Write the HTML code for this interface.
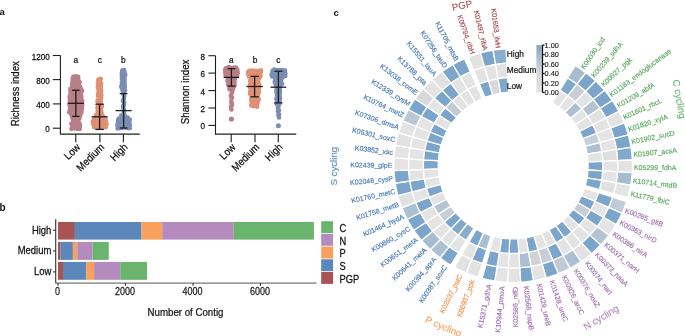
<!DOCTYPE html>
<html><head><meta charset="utf-8"><style>
html,body{margin:0;padding:0;background:#fff;}
svg{display:block;will-change:transform;}
text{font-family:"Liberation Sans", sans-serif;}
</style></head><body>
<svg width="685" height="336" viewBox="0 0 685 336" font-family="&quot;Liberation Sans&quot;, sans-serif">
<rect width="685" height="336" fill="#fff"/>
<text x="-0.5" y="15" font-size="9.5" font-weight="bold" fill="#111">a</text>
<text x="-0.5" y="211" font-size="10" font-weight="bold" fill="#111">b</text>
<text x="333.5" y="15.9" font-size="9.5" font-weight="bold" fill="#111">c</text>
<g stroke="#1e1e1e" stroke-width="1.1" fill="none">
<line x1="60.4" y1="55.5" x2="60.4" y2="134.1"/>
<line x1="59.9" y1="134.1" x2="139.8" y2="134.1"/>
<line x1="52.8" y1="55.5" x2="60.4" y2="55.5"/>
<line x1="52.8" y1="79.6" x2="60.4" y2="79.6"/>
<line x1="52.8" y1="103.9" x2="60.4" y2="103.9"/>
<line x1="52.8" y1="128.2" x2="60.4" y2="128.2"/>
<line x1="75.8" y1="134.1" x2="75.8" y2="142.2"/>
<line x1="99.9" y1="134.1" x2="99.9" y2="142.2"/>
<line x1="123.4" y1="134.1" x2="123.4" y2="142.2"/>
</g>
<text transform="translate(49.70,59.50) scale(1,1.15)" font-size="8.1" text-anchor="end" fill="#111" stroke="#111" stroke-width="0.22">1200</text>
<text transform="translate(49.70,83.60) scale(1,1.15)" font-size="8.1" text-anchor="end" fill="#111" stroke="#111" stroke-width="0.22">800</text>
<text transform="translate(49.70,107.90) scale(1,1.15)" font-size="8.1" text-anchor="end" fill="#111" stroke="#111" stroke-width="0.22">400</text>
<text transform="translate(49.70,132.20) scale(1,1.15)" font-size="8.1" text-anchor="end" fill="#111" stroke="#111" stroke-width="0.22">0</text>
<text transform="translate(19.20,93.70) rotate(-90) scale(1,1.12)" font-size="9.6" text-anchor="middle" fill="#111" stroke="#111" stroke-width="0.22">Richness index</text>
<g fill="#B77F88"><circle cx="73.37" cy="76.48" r="2.3"/><circle cx="76.11" cy="76.39" r="2.3"/><circle cx="78.23" cy="76.74" r="2.3"/><circle cx="72.61" cy="78.89" r="2.3"/><circle cx="75.25" cy="78.80" r="2.3"/><circle cx="77.97" cy="78.39" r="2.3"/><circle cx="72.77" cy="81.25" r="2.3"/><circle cx="75.37" cy="80.53" r="2.3"/><circle cx="79.10" cy="81.40" r="2.3"/><circle cx="72.88" cy="82.72" r="2.3"/><circle cx="76.57" cy="82.30" r="2.3"/><circle cx="79.53" cy="82.59" r="2.3"/><circle cx="72.17" cy="84.36" r="2.3"/><circle cx="75.63" cy="85.20" r="2.3"/><circle cx="78.69" cy="84.92" r="2.3"/><circle cx="72.25" cy="86.65" r="2.3"/><circle cx="74.68" cy="86.28" r="2.3"/><circle cx="76.57" cy="86.45" r="2.3"/><circle cx="80.00" cy="86.71" r="2.3"/><circle cx="70.43" cy="88.88" r="2.3"/><circle cx="73.23" cy="88.54" r="2.3"/><circle cx="76.31" cy="89.02" r="2.3"/><circle cx="78.14" cy="88.87" r="2.3"/><circle cx="81.14" cy="89.23" r="2.3"/><circle cx="70.51" cy="90.51" r="2.3"/><circle cx="73.15" cy="90.30" r="2.3"/><circle cx="74.64" cy="91.07" r="2.3"/><circle cx="76.55" cy="90.75" r="2.3"/><circle cx="78.68" cy="90.96" r="2.3"/><circle cx="81.98" cy="90.85" r="2.3"/><circle cx="70.70" cy="92.52" r="2.3"/><circle cx="72.74" cy="92.85" r="2.3"/><circle cx="74.87" cy="92.69" r="2.3"/><circle cx="77.52" cy="93.27" r="2.3"/><circle cx="79.30" cy="92.94" r="2.3"/><circle cx="81.01" cy="92.98" r="2.3"/><circle cx="70.36" cy="95.31" r="2.3"/><circle cx="72.90" cy="94.46" r="2.3"/><circle cx="74.59" cy="94.92" r="2.3"/><circle cx="76.38" cy="94.67" r="2.3"/><circle cx="78.88" cy="94.26" r="2.3"/><circle cx="81.03" cy="95.04" r="2.3"/><circle cx="69.62" cy="96.40" r="2.3"/><circle cx="72.29" cy="97.15" r="2.3"/><circle cx="74.16" cy="96.64" r="2.3"/><circle cx="77.12" cy="97.16" r="2.3"/><circle cx="79.80" cy="97.14" r="2.3"/><circle cx="81.35" cy="96.60" r="2.3"/><circle cx="69.92" cy="99.14" r="2.3"/><circle cx="73.07" cy="98.26" r="2.3"/><circle cx="74.29" cy="98.36" r="2.3"/><circle cx="76.68" cy="98.66" r="2.3"/><circle cx="79.49" cy="98.40" r="2.3"/><circle cx="80.98" cy="98.58" r="2.3"/><circle cx="69.92" cy="100.74" r="2.3"/><circle cx="73.06" cy="100.89" r="2.3"/><circle cx="74.76" cy="100.80" r="2.3"/><circle cx="77.31" cy="100.12" r="2.3"/><circle cx="79.94" cy="101.00" r="2.3"/><circle cx="82.22" cy="101.02" r="2.3"/><circle cx="69.94" cy="102.52" r="2.3"/><circle cx="71.86" cy="102.80" r="2.3"/><circle cx="74.12" cy="102.12" r="2.3"/><circle cx="76.65" cy="102.23" r="2.3"/><circle cx="79.16" cy="102.10" r="2.3"/><circle cx="81.01" cy="102.22" r="2.3"/><circle cx="69.51" cy="104.46" r="2.3"/><circle cx="71.74" cy="105.07" r="2.3"/><circle cx="74.89" cy="104.20" r="2.3"/><circle cx="76.72" cy="104.44" r="2.3"/><circle cx="79.21" cy="104.17" r="2.3"/><circle cx="82.22" cy="105.21" r="2.3"/><circle cx="70.01" cy="106.58" r="2.3"/><circle cx="71.81" cy="106.12" r="2.3"/><circle cx="74.51" cy="106.32" r="2.3"/><circle cx="77.53" cy="106.19" r="2.3"/><circle cx="78.74" cy="107.14" r="2.3"/><circle cx="81.79" cy="106.18" r="2.3"/><circle cx="70.10" cy="108.01" r="2.3"/><circle cx="72.42" cy="109.15" r="2.3"/><circle cx="75.24" cy="108.82" r="2.3"/><circle cx="76.74" cy="108.42" r="2.3"/><circle cx="78.95" cy="108.91" r="2.3"/><circle cx="81.81" cy="108.91" r="2.3"/><circle cx="69.78" cy="110.23" r="2.3"/><circle cx="72.81" cy="111.14" r="2.3"/><circle cx="75.22" cy="110.93" r="2.3"/><circle cx="77.52" cy="110.85" r="2.3"/><circle cx="79.04" cy="110.58" r="2.3"/><circle cx="81.58" cy="109.99" r="2.3"/><circle cx="69.34" cy="112.28" r="2.3"/><circle cx="72.03" cy="112.77" r="2.3"/><circle cx="75.36" cy="112.48" r="2.3"/><circle cx="77.69" cy="113.13" r="2.3"/><circle cx="80.07" cy="112.38" r="2.3"/><circle cx="81.40" cy="112.21" r="2.3"/><circle cx="71.22" cy="114.17" r="2.3"/><circle cx="74.65" cy="115.00" r="2.3"/><circle cx="77.80" cy="114.50" r="2.3"/><circle cx="80.37" cy="114.88" r="2.3"/><circle cx="72.25" cy="116.69" r="2.3"/><circle cx="76.47" cy="116.84" r="2.3"/><circle cx="79.32" cy="116.47" r="2.3"/><circle cx="72.63" cy="118.83" r="2.3"/><circle cx="75.67" cy="118.84" r="2.3"/><circle cx="79.38" cy="118.36" r="2.3"/><circle cx="73.19" cy="121.00" r="2.3"/><circle cx="76.21" cy="120.06" r="2.3"/><circle cx="77.95" cy="120.04" r="2.3"/><circle cx="73.10" cy="122.81" r="2.3"/><circle cx="74.28" cy="122.83" r="2.3"/><circle cx="77.69" cy="122.63" r="2.3"/><circle cx="79.05" cy="122.50" r="2.3"/><circle cx="71.34" cy="123.84" r="2.3"/><circle cx="75.21" cy="124.60" r="2.3"/><circle cx="77.28" cy="124.94" r="2.3"/><circle cx="79.85" cy="124.87" r="2.3"/><circle cx="72.23" cy="126.05" r="2.3"/><circle cx="74.18" cy="126.15" r="2.3"/><circle cx="76.91" cy="126.50" r="2.3"/><circle cx="79.69" cy="126.30" r="2.3"/><circle cx="71.47" cy="128.87" r="2.3"/><circle cx="74.39" cy="128.33" r="2.3"/><circle cx="77.32" cy="128.87" r="2.3"/><circle cx="79.70" cy="128.88" r="2.3"/></g>
<g fill="#DE9075"><circle cx="98.49" cy="79.54" r="2.3"/><circle cx="100.74" cy="78.92" r="2.3"/><circle cx="98.37" cy="81.10" r="2.3"/><circle cx="100.06" cy="81.84" r="2.3"/><circle cx="97.95" cy="83.43" r="2.3"/><circle cx="101.10" cy="83.53" r="2.3"/><circle cx="98.13" cy="85.46" r="2.3"/><circle cx="100.91" cy="85.78" r="2.3"/><circle cx="97.78" cy="87.49" r="2.3"/><circle cx="100.52" cy="87.15" r="2.3"/><circle cx="98.67" cy="89.41" r="2.3"/><circle cx="100.99" cy="89.71" r="2.3"/><circle cx="98.83" cy="91.31" r="2.3"/><circle cx="101.11" cy="91.39" r="2.3"/><circle cx="98.23" cy="93.59" r="2.3"/><circle cx="100.92" cy="93.40" r="2.3"/><circle cx="98.14" cy="95.87" r="2.3"/><circle cx="101.31" cy="95.79" r="2.3"/><circle cx="98.75" cy="97.03" r="2.3"/><circle cx="101.15" cy="97.85" r="2.3"/><circle cx="98.57" cy="98.86" r="2.3"/><circle cx="100.58" cy="99.23" r="2.3"/><circle cx="97.42" cy="100.97" r="2.3"/><circle cx="100.58" cy="101.48" r="2.3"/><circle cx="98.35" cy="103.74" r="2.3"/><circle cx="100.76" cy="103.52" r="2.3"/><circle cx="98.11" cy="104.81" r="2.3"/><circle cx="101.85" cy="105.80" r="2.3"/><circle cx="97.42" cy="107.76" r="2.3"/><circle cx="101.24" cy="107.20" r="2.3"/><circle cx="98.43" cy="109.60" r="2.3"/><circle cx="100.98" cy="109.12" r="2.3"/><circle cx="97.70" cy="110.99" r="2.3"/><circle cx="101.09" cy="110.96" r="2.3"/><circle cx="97.92" cy="112.58" r="2.3"/><circle cx="101.66" cy="113.09" r="2.3"/><circle cx="96.14" cy="114.94" r="2.3"/><circle cx="99.77" cy="115.15" r="2.3"/><circle cx="101.78" cy="115.72" r="2.3"/><circle cx="95.68" cy="117.69" r="2.3"/><circle cx="97.61" cy="116.84" r="2.3"/><circle cx="100.40" cy="117.45" r="2.3"/><circle cx="103.60" cy="116.68" r="2.3"/><circle cx="93.92" cy="119.59" r="2.3"/><circle cx="96.71" cy="118.81" r="2.3"/><circle cx="98.00" cy="119.60" r="2.3"/><circle cx="100.81" cy="119.34" r="2.3"/><circle cx="102.37" cy="118.57" r="2.3"/><circle cx="105.43" cy="119.01" r="2.3"/><circle cx="92.80" cy="121.61" r="2.3"/><circle cx="96.07" cy="121.44" r="2.3"/><circle cx="97.78" cy="121.51" r="2.3"/><circle cx="100.23" cy="121.52" r="2.3"/><circle cx="103.26" cy="120.89" r="2.3"/><circle cx="105.87" cy="121.59" r="2.3"/><circle cx="93.08" cy="122.62" r="2.3"/><circle cx="95.92" cy="122.75" r="2.3"/><circle cx="97.81" cy="122.65" r="2.3"/><circle cx="100.21" cy="122.70" r="2.3"/><circle cx="103.06" cy="122.83" r="2.3"/><circle cx="106.16" cy="122.81" r="2.3"/><circle cx="93.40" cy="124.65" r="2.3"/><circle cx="95.67" cy="124.46" r="2.3"/><circle cx="98.01" cy="124.46" r="2.3"/><circle cx="101.17" cy="125.10" r="2.3"/><circle cx="102.89" cy="125.01" r="2.3"/><circle cx="106.41" cy="124.57" r="2.3"/><circle cx="94.19" cy="126.94" r="2.3"/><circle cx="96.08" cy="127.42" r="2.3"/><circle cx="98.28" cy="127.03" r="2.3"/><circle cx="101.03" cy="127.60" r="2.3"/><circle cx="102.90" cy="127.42" r="2.3"/><circle cx="105.75" cy="127.18" r="2.3"/></g>
<g fill="#7C8DB3"><circle cx="122.36" cy="70.42" r="2.3"/><circle cx="124.09" cy="70.16" r="2.3"/><circle cx="121.85" cy="72.87" r="2.3"/><circle cx="124.40" cy="72.18" r="2.3"/><circle cx="121.84" cy="74.97" r="2.3"/><circle cx="125.30" cy="74.76" r="2.3"/><circle cx="122.08" cy="76.23" r="2.3"/><circle cx="124.52" cy="76.49" r="2.3"/><circle cx="121.87" cy="78.45" r="2.3"/><circle cx="124.52" cy="79.07" r="2.3"/><circle cx="122.98" cy="80.56" r="2.3"/><circle cx="124.52" cy="81.06" r="2.3"/><circle cx="121.97" cy="82.31" r="2.3"/><circle cx="124.26" cy="82.34" r="2.3"/><circle cx="122.07" cy="84.46" r="2.3"/><circle cx="124.68" cy="84.47" r="2.3"/><circle cx="121.36" cy="86.16" r="2.3"/><circle cx="124.58" cy="86.32" r="2.3"/><circle cx="121.63" cy="87.85" r="2.3"/><circle cx="124.65" cy="88.10" r="2.3"/><circle cx="122.62" cy="90.44" r="2.3"/><circle cx="125.05" cy="90.59" r="2.3"/><circle cx="123.90" cy="92.83" r="2.3"/><circle cx="123.45" cy="94.15" r="2.3"/><circle cx="124.28" cy="95.92" r="2.3"/><circle cx="123.91" cy="98.49" r="2.3"/><circle cx="122.96" cy="100.70" r="2.3"/><circle cx="124.15" cy="102.43" r="2.3"/><circle cx="123.93" cy="104.63" r="2.3"/><circle cx="123.10" cy="106.27" r="2.3"/><circle cx="123.61" cy="108.62" r="2.3"/><circle cx="124.03" cy="110.59" r="2.3"/><circle cx="123.72" cy="112.65" r="2.3"/><circle cx="123.86" cy="114.39" r="2.3"/><circle cx="121.29" cy="115.58" r="2.3"/><circle cx="125.02" cy="115.97" r="2.3"/><circle cx="118.80" cy="118.52" r="2.3"/><circle cx="122.27" cy="118.27" r="2.3"/><circle cx="125.19" cy="118.34" r="2.3"/><circle cx="127.83" cy="117.52" r="2.3"/><circle cx="118.11" cy="120.40" r="2.3"/><circle cx="120.06" cy="120.14" r="2.3"/><circle cx="122.64" cy="119.58" r="2.3"/><circle cx="125.11" cy="119.80" r="2.3"/><circle cx="126.55" cy="119.82" r="2.3"/><circle cx="129.83" cy="119.75" r="2.3"/><circle cx="117.93" cy="122.65" r="2.3"/><circle cx="119.99" cy="121.94" r="2.3"/><circle cx="122.37" cy="122.30" r="2.3"/><circle cx="125.17" cy="122.22" r="2.3"/><circle cx="127.40" cy="121.57" r="2.3"/><circle cx="129.11" cy="121.78" r="2.3"/><circle cx="117.84" cy="123.83" r="2.3"/><circle cx="120.03" cy="123.47" r="2.3"/><circle cx="121.76" cy="123.78" r="2.3"/><circle cx="125.06" cy="124.29" r="2.3"/><circle cx="127.51" cy="123.81" r="2.3"/><circle cx="129.73" cy="124.02" r="2.3"/><circle cx="117.37" cy="125.58" r="2.3"/><circle cx="120.44" cy="125.68" r="2.3"/><circle cx="123.03" cy="126.56" r="2.3"/><circle cx="124.16" cy="125.99" r="2.3"/><circle cx="127.76" cy="126.60" r="2.3"/><circle cx="129.72" cy="125.76" r="2.3"/><circle cx="117.67" cy="128.55" r="2.3"/><circle cx="119.88" cy="128.12" r="2.3"/><circle cx="121.99" cy="128.05" r="2.3"/><circle cx="125.34" cy="127.58" r="2.3"/><circle cx="127.36" cy="128.03" r="2.3"/><circle cx="129.67" cy="128.26" r="2.3"/></g>
<g stroke="#1e1e1e" stroke-width="1.3" fill="none"><line x1="75.9" y1="90.3" x2="75.9" y2="116.4"/><line x1="67.7" y1="103.3" x2="84.10000000000001" y2="103.3"/><line x1="72.2" y1="90.3" x2="79.60000000000001" y2="90.3"/><line x1="72.2" y1="116.4" x2="79.60000000000001" y2="116.4"/></g>
<g stroke="#1e1e1e" stroke-width="1.3" fill="none"><line x1="99.6" y1="104.2" x2="99.6" y2="129.4"/><line x1="91.5" y1="116.8" x2="107.69999999999999" y2="116.8"/><line x1="95.39999999999999" y1="104.2" x2="103.8" y2="104.2"/><line x1="95.39999999999999" y1="129.4" x2="103.8" y2="129.4"/></g>
<g stroke="#1e1e1e" stroke-width="1.3" fill="none"><line x1="123.6" y1="93.6" x2="123.6" y2="128"/><line x1="115.6" y1="110.6" x2="131.6" y2="110.6"/><line x1="119.69999999999999" y1="93.6" x2="127.5" y2="93.6"/><line x1="119.69999999999999" y1="128" x2="127.5" y2="128"/></g>
<text transform="translate(75.80,62.90) scale(1,1.08)" font-size="8.3" text-anchor="middle" fill="#111" stroke="#111" stroke-width="0.22">a</text>
<text transform="translate(99.90,62.90) scale(1,1.08)" font-size="8.3" text-anchor="middle" fill="#111" stroke="#111" stroke-width="0.22">c</text>
<text transform="translate(123.40,62.90) scale(1,1.08)" font-size="8.3" text-anchor="middle" fill="#111" stroke="#111" stroke-width="0.22">b</text>
<text transform="translate(80.80,147.80) rotate(-45) scale(1,1.1)" font-size="9.6" text-anchor="end" fill="#111" stroke="#111" stroke-width="0.22">Low</text>
<text transform="translate(104.90,147.80) rotate(-45) scale(1,1.1)" font-size="9.6" text-anchor="end" fill="#111" stroke="#111" stroke-width="0.22">Medium</text>
<text transform="translate(128.40,147.80) rotate(-45) scale(1,1.1)" font-size="9.6" text-anchor="end" fill="#111" stroke="#111" stroke-width="0.22">High</text>
<g stroke="#1e1e1e" stroke-width="1.1" fill="none">
<line x1="215.5" y1="55.7" x2="215.5" y2="134.1"/>
<line x1="215.0" y1="134.1" x2="296.3" y2="134.1"/>
<line x1="208.4" y1="55.7" x2="215.5" y2="55.7"/>
<line x1="208.4" y1="73.1" x2="215.5" y2="73.1"/>
<line x1="208.4" y1="90.6" x2="215.5" y2="90.6"/>
<line x1="208.4" y1="108" x2="215.5" y2="108"/>
<line x1="208.4" y1="125.4" x2="215.5" y2="125.4"/>
<line x1="231.2" y1="134.1" x2="231.2" y2="142.2"/>
<line x1="255" y1="134.1" x2="255" y2="142.2"/>
<line x1="278.3" y1="134.1" x2="278.3" y2="142.2"/>
</g>
<text transform="translate(205.10,59.70) scale(1,1.15)" font-size="8.1" text-anchor="end" fill="#111" stroke="#111" stroke-width="0.22">8</text>
<text transform="translate(205.10,77.10) scale(1,1.15)" font-size="8.1" text-anchor="end" fill="#111" stroke="#111" stroke-width="0.22">6</text>
<text transform="translate(205.10,94.60) scale(1,1.15)" font-size="8.1" text-anchor="end" fill="#111" stroke="#111" stroke-width="0.22">4</text>
<text transform="translate(205.10,112.00) scale(1,1.15)" font-size="8.1" text-anchor="end" fill="#111" stroke="#111" stroke-width="0.22">2</text>
<text transform="translate(205.10,129.40) scale(1,1.15)" font-size="8.1" text-anchor="end" fill="#111" stroke="#111" stroke-width="0.22">0</text>
<text transform="translate(188.60,91.90) rotate(-90) scale(1,1.12)" font-size="9.7" text-anchor="middle" fill="#111" stroke="#111" stroke-width="0.22">Shannon index</text>
<g fill="#B77F88"><circle cx="225.83" cy="68.18" r="2.3"/><circle cx="228.79" cy="67.13" r="2.3"/><circle cx="230.71" cy="67.69" r="2.3"/><circle cx="233.93" cy="67.46" r="2.3"/><circle cx="236.09" cy="67.51" r="2.3"/><circle cx="225.04" cy="70.09" r="2.3"/><circle cx="227.04" cy="69.98" r="2.3"/><circle cx="230.65" cy="69.22" r="2.3"/><circle cx="233.22" cy="69.94" r="2.3"/><circle cx="235.62" cy="69.43" r="2.3"/><circle cx="237.32" cy="69.55" r="2.3"/><circle cx="226.00" cy="71.77" r="2.3"/><circle cx="227.54" cy="71.57" r="2.3"/><circle cx="229.87" cy="71.12" r="2.3"/><circle cx="232.06" cy="72.06" r="2.3"/><circle cx="234.76" cy="72.18" r="2.3"/><circle cx="237.15" cy="71.38" r="2.3"/><circle cx="225.32" cy="73.27" r="2.3"/><circle cx="227.56" cy="74.19" r="2.3"/><circle cx="230.72" cy="74.01" r="2.3"/><circle cx="232.80" cy="74.14" r="2.3"/><circle cx="235.68" cy="73.70" r="2.3"/><circle cx="237.81" cy="73.10" r="2.3"/><circle cx="225.78" cy="75.56" r="2.3"/><circle cx="228.19" cy="75.79" r="2.3"/><circle cx="229.91" cy="75.08" r="2.3"/><circle cx="233.19" cy="75.17" r="2.3"/><circle cx="234.93" cy="75.43" r="2.3"/><circle cx="237.06" cy="75.91" r="2.3"/><circle cx="228.57" cy="77.31" r="2.3"/><circle cx="230.45" cy="77.36" r="2.3"/><circle cx="232.65" cy="77.47" r="2.3"/><circle cx="234.43" cy="77.19" r="2.3"/><circle cx="227.60" cy="80.07" r="2.3"/><circle cx="230.27" cy="79.24" r="2.3"/><circle cx="233.10" cy="80.18" r="2.3"/><circle cx="234.72" cy="79.15" r="2.3"/><circle cx="227.69" cy="81.07" r="2.3"/><circle cx="231.18" cy="81.07" r="2.3"/><circle cx="234.32" cy="81.27" r="2.3"/><circle cx="228.32" cy="84.00" r="2.3"/><circle cx="231.75" cy="83.44" r="2.3"/><circle cx="234.46" cy="83.57" r="2.3"/><circle cx="228.53" cy="85.33" r="2.3"/><circle cx="230.79" cy="85.25" r="2.3"/><circle cx="234.75" cy="85.07" r="2.3"/><circle cx="229.76" cy="87.66" r="2.3"/><circle cx="233.56" cy="87.16" r="2.3"/><circle cx="229.58" cy="89.18" r="2.3"/><circle cx="232.76" cy="89.42" r="2.3"/><circle cx="232.04" cy="91.88" r="2.3"/><circle cx="231.92" cy="92.87" r="2.3"/><circle cx="230.75" cy="95.67" r="2.3"/><circle cx="231.95" cy="97.37" r="2.3"/><circle cx="231.52" cy="98.78" r="2.3"/><circle cx="231.25" cy="101.87" r="2.3"/><circle cx="231.86" cy="103.77" r="2.3"/><circle cx="232.06" cy="105.02" r="2.3"/><circle cx="230.85" cy="106.89" r="2.3"/><circle cx="231.43" cy="109.50" r="2.3"/></g>
<circle cx="231.4" cy="119" r="2.6" fill="#B77F88"/>
<g fill="#DE9075"><circle cx="249.20" cy="70.87" r="2.3"/><circle cx="251.20" cy="70.92" r="2.3"/><circle cx="253.34" cy="70.66" r="2.3"/><circle cx="255.16" cy="70.94" r="2.3"/><circle cx="257.84" cy="71.10" r="2.3"/><circle cx="260.82" cy="70.36" r="2.3"/><circle cx="248.03" cy="72.28" r="2.3"/><circle cx="251.16" cy="72.82" r="2.3"/><circle cx="252.85" cy="72.06" r="2.3"/><circle cx="255.84" cy="72.68" r="2.3"/><circle cx="258.07" cy="72.25" r="2.3"/><circle cx="260.79" cy="71.99" r="2.3"/><circle cx="248.24" cy="74.51" r="2.3"/><circle cx="251.60" cy="74.73" r="2.3"/><circle cx="253.92" cy="74.53" r="2.3"/><circle cx="255.44" cy="74.26" r="2.3"/><circle cx="258.89" cy="74.81" r="2.3"/><circle cx="260.41" cy="73.99" r="2.3"/><circle cx="249.06" cy="76.75" r="2.3"/><circle cx="251.17" cy="76.25" r="2.3"/><circle cx="253.73" cy="77.05" r="2.3"/><circle cx="255.32" cy="75.98" r="2.3"/><circle cx="257.69" cy="76.44" r="2.3"/><circle cx="260.39" cy="76.18" r="2.3"/><circle cx="251.02" cy="78.81" r="2.3"/><circle cx="253.27" cy="78.17" r="2.3"/><circle cx="256.59" cy="78.29" r="2.3"/><circle cx="259.05" cy="78.20" r="2.3"/><circle cx="250.22" cy="80.81" r="2.3"/><circle cx="252.98" cy="81.04" r="2.3"/><circle cx="255.92" cy="80.12" r="2.3"/><circle cx="258.20" cy="80.40" r="2.3"/><circle cx="250.86" cy="83.02" r="2.3"/><circle cx="252.78" cy="82.35" r="2.3"/><circle cx="255.52" cy="83.05" r="2.3"/><circle cx="258.07" cy="81.94" r="2.3"/><circle cx="250.02" cy="84.33" r="2.3"/><circle cx="253.84" cy="84.92" r="2.3"/><circle cx="256.25" cy="85.06" r="2.3"/><circle cx="259.17" cy="84.26" r="2.3"/><circle cx="250.21" cy="86.96" r="2.3"/><circle cx="253.63" cy="85.88" r="2.3"/><circle cx="256.15" cy="86.29" r="2.3"/><circle cx="258.38" cy="86.24" r="2.3"/><circle cx="250.19" cy="87.82" r="2.3"/><circle cx="252.98" cy="88.24" r="2.3"/><circle cx="256.55" cy="87.97" r="2.3"/><circle cx="259.19" cy="88.07" r="2.3"/><circle cx="250.47" cy="90.79" r="2.3"/><circle cx="253.74" cy="90.32" r="2.3"/><circle cx="255.28" cy="90.37" r="2.3"/><circle cx="258.35" cy="90.90" r="2.3"/><circle cx="250.25" cy="92.22" r="2.3"/><circle cx="253.85" cy="91.82" r="2.3"/><circle cx="255.78" cy="92.75" r="2.3"/><circle cx="258.89" cy="91.83" r="2.3"/><circle cx="250.04" cy="93.84" r="2.3"/><circle cx="253.89" cy="94.07" r="2.3"/><circle cx="256.25" cy="94.84" r="2.3"/><circle cx="258.28" cy="94.09" r="2.3"/><circle cx="251.40" cy="96.48" r="2.3"/><circle cx="252.99" cy="96.60" r="2.3"/><circle cx="255.62" cy="96.07" r="2.3"/><circle cx="257.75" cy="96.65" r="2.3"/><circle cx="251.69" cy="98.48" r="2.3"/><circle cx="254.06" cy="97.75" r="2.3"/><circle cx="255.39" cy="98.29" r="2.3"/><circle cx="258.73" cy="98.86" r="2.3"/><circle cx="251.26" cy="100.00" r="2.3"/><circle cx="254.50" cy="100.29" r="2.3"/><circle cx="258.38" cy="99.92" r="2.3"/><circle cx="251.99" cy="102.57" r="2.3"/><circle cx="255.05" cy="102.61" r="2.3"/><circle cx="257.79" cy="102.07" r="2.3"/><circle cx="251.45" cy="104.09" r="2.3"/><circle cx="255.00" cy="103.75" r="2.3"/><circle cx="257.07" cy="104.56" r="2.3"/><circle cx="251.49" cy="105.72" r="2.3"/><circle cx="253.95" cy="106.30" r="2.3"/><circle cx="257.11" cy="106.82" r="2.3"/></g>
<g fill="#7C8DB3"><circle cx="272.64" cy="70.69" r="2.3"/><circle cx="274.29" cy="69.60" r="2.3"/><circle cx="276.57" cy="70.10" r="2.3"/><circle cx="279.95" cy="70.04" r="2.3"/><circle cx="281.81" cy="70.00" r="2.3"/><circle cx="284.87" cy="70.31" r="2.3"/><circle cx="272.45" cy="72.50" r="2.3"/><circle cx="274.85" cy="71.63" r="2.3"/><circle cx="277.62" cy="71.83" r="2.3"/><circle cx="279.75" cy="71.93" r="2.3"/><circle cx="282.51" cy="71.72" r="2.3"/><circle cx="284.35" cy="71.77" r="2.3"/><circle cx="271.61" cy="74.52" r="2.3"/><circle cx="274.73" cy="73.85" r="2.3"/><circle cx="276.99" cy="74.65" r="2.3"/><circle cx="279.67" cy="73.74" r="2.3"/><circle cx="282.61" cy="74.24" r="2.3"/><circle cx="285.39" cy="73.58" r="2.3"/><circle cx="272.06" cy="76.42" r="2.3"/><circle cx="275.10" cy="76.54" r="2.3"/><circle cx="276.50" cy="75.79" r="2.3"/><circle cx="279.13" cy="75.67" r="2.3"/><circle cx="282.84" cy="76.14" r="2.3"/><circle cx="285.30" cy="75.89" r="2.3"/><circle cx="275.61" cy="77.96" r="2.3"/><circle cx="278.06" cy="78.35" r="2.3"/><circle cx="282.32" cy="77.55" r="2.3"/><circle cx="275.23" cy="80.14" r="2.3"/><circle cx="278.00" cy="79.84" r="2.3"/><circle cx="281.20" cy="79.64" r="2.3"/><circle cx="274.76" cy="82.10" r="2.3"/><circle cx="278.61" cy="81.62" r="2.3"/><circle cx="281.02" cy="81.77" r="2.3"/><circle cx="275.35" cy="83.58" r="2.3"/><circle cx="278.14" cy="83.60" r="2.3"/><circle cx="282.11" cy="84.02" r="2.3"/><circle cx="276.09" cy="85.46" r="2.3"/><circle cx="279.95" cy="86.00" r="2.3"/><circle cx="276.89" cy="87.43" r="2.3"/><circle cx="279.63" cy="88.15" r="2.3"/><circle cx="276.57" cy="89.64" r="2.3"/><circle cx="279.83" cy="90.44" r="2.3"/><circle cx="276.44" cy="91.96" r="2.3"/><circle cx="279.90" cy="91.78" r="2.3"/><circle cx="277.21" cy="94.46" r="2.3"/><circle cx="279.91" cy="93.50" r="2.3"/><circle cx="277.02" cy="95.48" r="2.3"/><circle cx="279.41" cy="96.32" r="2.3"/><circle cx="276.59" cy="98.20" r="2.3"/><circle cx="279.97" cy="98.28" r="2.3"/><circle cx="276.65" cy="99.40" r="2.3"/><circle cx="279.42" cy="99.86" r="2.3"/><circle cx="276.90" cy="102.27" r="2.3"/><circle cx="279.52" cy="101.93" r="2.3"/><circle cx="276.52" cy="103.77" r="2.3"/><circle cx="279.60" cy="103.50" r="2.3"/><circle cx="278.43" cy="106.25" r="2.3"/><circle cx="277.85" cy="107.71" r="2.3"/><circle cx="278.83" cy="110.26" r="2.3"/><circle cx="277.98" cy="111.23" r="2.3"/><circle cx="279.02" cy="114.23" r="2.3"/><circle cx="278.38" cy="115.10" r="2.3"/><circle cx="279.00" cy="117.49" r="2.3"/></g>
<circle cx="278.4" cy="125.8" r="2.5" fill="#7C8DB3"/>
<g stroke="#1e1e1e" stroke-width="1.3" fill="none"><line x1="231.4" y1="68.7" x2="231.4" y2="86.1"/><line x1="223.6" y1="77.4" x2="239.20000000000002" y2="77.4"/><line x1="227.5" y1="68.7" x2="235.3" y2="68.7"/><line x1="227.5" y1="86.1" x2="235.3" y2="86.1"/></g>
<g stroke="#1e1e1e" stroke-width="1.3" fill="none"><line x1="254.6" y1="76.4" x2="254.6" y2="96.8"/><line x1="246.4" y1="86.5" x2="262.8" y2="86.5"/><line x1="250.5" y1="76.4" x2="258.7" y2="76.4"/><line x1="250.5" y1="96.8" x2="258.7" y2="96.8"/></g>
<g stroke="#1e1e1e" stroke-width="1.3" fill="none"><line x1="278.4" y1="71.2" x2="278.4" y2="102.9"/><line x1="270.59999999999997" y1="87.2" x2="286.2" y2="87.2"/><line x1="274.4" y1="71.2" x2="282.4" y2="71.2"/><line x1="274.4" y1="102.9" x2="282.4" y2="102.9"/></g>
<text transform="translate(231.20,62.90) scale(1,1.08)" font-size="8.3" text-anchor="middle" fill="#111" stroke="#111" stroke-width="0.22">a</text>
<text transform="translate(255.00,62.90) scale(1,1.08)" font-size="8.3" text-anchor="middle" fill="#111" stroke="#111" stroke-width="0.22">b</text>
<text transform="translate(278.30,62.90) scale(1,1.08)" font-size="8.3" text-anchor="middle" fill="#111" stroke="#111" stroke-width="0.22">c</text>
<text transform="translate(236.20,147.80) rotate(-45) scale(1,1.1)" font-size="9.6" text-anchor="end" fill="#111" stroke="#111" stroke-width="0.22">Low</text>
<text transform="translate(260.00,147.80) rotate(-45) scale(1,1.1)" font-size="9.6" text-anchor="end" fill="#111" stroke="#111" stroke-width="0.22">Medium</text>
<text transform="translate(283.30,147.80) rotate(-45) scale(1,1.1)" font-size="9.6" text-anchor="end" fill="#111" stroke="#111" stroke-width="0.22">High</text>
<rect x="58.00" y="222" width="16.90" height="17.60" fill="#A85457"/>
<rect x="74.90" y="222" width="66.60" height="17.60" fill="#5B87BA"/>
<rect x="141.50" y="222" width="20.70" height="17.60" fill="#F9A05F"/>
<rect x="162.20" y="222" width="71.60" height="17.60" fill="#B58BBE"/>
<rect x="233.80" y="222" width="80.10" height="17.60" fill="#6AB46E"/>
<rect x="58.00" y="241.9" width="2.60" height="18.00" fill="#A85457"/>
<rect x="60.60" y="241.9" width="12.30" height="18.00" fill="#5B87BA"/>
<rect x="72.90" y="241.9" width="4.40" height="18.00" fill="#F9A05F"/>
<rect x="77.30" y="241.9" width="15.20" height="18.00" fill="#B58BBE"/>
<rect x="92.50" y="241.9" width="16.30" height="18.00" fill="#6AB46E"/>
<rect x="58.00" y="261.9" width="5.00" height="17.90" fill="#A85457"/>
<rect x="63.00" y="261.9" width="23.30" height="17.90" fill="#5B87BA"/>
<rect x="86.30" y="261.9" width="7.80" height="17.90" fill="#F9A05F"/>
<rect x="94.10" y="261.9" width="26.10" height="17.90" fill="#B58BBE"/>
<rect x="120.20" y="261.9" width="26.90" height="17.90" fill="#6AB46E"/>
<g stroke="#333" stroke-width="1.1" fill="none">
<line x1="55.7" y1="219.3" x2="55.7" y2="283.1"/>
<line x1="55.2" y1="283.1" x2="316.5" y2="283.1" stroke="#777"/>
<line x1="53" y1="230.3" x2="55.7" y2="230.3"/>
<line x1="53" y1="250.9" x2="55.7" y2="250.9"/>
<line x1="53" y1="271.9" x2="55.7" y2="271.9"/>
<line x1="58.00" y1="283.1" x2="58.00" y2="285.8"/>
<line x1="125.50" y1="283.1" x2="125.50" y2="285.8"/>
<line x1="193.00" y1="283.1" x2="193.00" y2="285.8"/>
<line x1="260.50" y1="283.1" x2="260.50" y2="285.8"/>
</g>
<text transform="translate(51.40,233.70) scale(1,1.15)" font-size="9.5" text-anchor="end" fill="#111" stroke="#111" stroke-width="0.22">High</text>
<text transform="translate(51.40,254.30) scale(1,1.15)" font-size="9.5" text-anchor="end" fill="#111" stroke="#111" stroke-width="0.22">Medium</text>
<text transform="translate(51.40,275.30) scale(1,1.15)" font-size="9.5" text-anchor="end" fill="#111" stroke="#111" stroke-width="0.22">Low</text>
<text transform="translate(57.40,294.60) scale(1,1.15)" font-size="9.0" text-anchor="middle" fill="#222" stroke="#222" stroke-width="0.22">0</text>
<text transform="translate(124.90,294.60) scale(1,1.15)" font-size="9.0" text-anchor="middle" fill="#222" stroke="#222" stroke-width="0.22">2000</text>
<text transform="translate(192.40,294.60) scale(1,1.15)" font-size="9.0" text-anchor="middle" fill="#222" stroke="#222" stroke-width="0.22">4000</text>
<text transform="translate(259.90,294.60) scale(1,1.15)" font-size="9.0" text-anchor="middle" fill="#222" stroke="#222" stroke-width="0.22">6000</text>
<text transform="translate(185.50,315.60) scale(1,1.08)" font-size="9.7" text-anchor="middle" fill="#111" stroke="#111" stroke-width="0.22">Number of Contig</text>
<rect x="321.2" y="221.20" width="11.9" height="11.9" fill="#6AB46E"/>
<text transform="translate(339.60,231.90) scale(1,1.2)" font-size="9.3" text-anchor="start" fill="#111" stroke="#111" stroke-width="0.22">C</text>
<rect x="321.2" y="233.90" width="11.9" height="11.9" fill="#B58BBE"/>
<text transform="translate(339.60,244.60) scale(1,1.2)" font-size="9.3" text-anchor="start" fill="#111" stroke="#111" stroke-width="0.22">N</text>
<rect x="321.2" y="246.60" width="11.9" height="11.9" fill="#F9A05F"/>
<text transform="translate(339.60,257.30) scale(1,1.2)" font-size="9.3" text-anchor="start" fill="#111" stroke="#111" stroke-width="0.22">P</text>
<rect x="321.2" y="259.30" width="11.9" height="11.9" fill="#5B87BA"/>
<text transform="translate(339.60,270.00) scale(1,1.2)" font-size="9.3" text-anchor="start" fill="#111" stroke="#111" stroke-width="0.22">S</text>
<rect x="321.2" y="272.00" width="11.9" height="11.9" fill="#A85457"/>
<text transform="translate(339.60,282.70) scale(1,1.2)" font-size="9.3" text-anchor="start" fill="#111" stroke="#111" stroke-width="0.22">PGP</text>
<g stroke="#fff" stroke-width="1.3" stroke-linejoin="miter"><path d="M575.20,65.59 L577.94,67.28 L580.64,69.04 L583.28,70.87 L585.87,72.77 L576.85,84.27 L574.58,82.60 L572.26,81.00 L569.90,79.46 L567.50,77.98Z" fill="#a6bdd0"/><path d="M567.50,77.98 L569.90,79.46 L572.26,81.00 L574.58,82.60 L576.85,84.27 L567.83,95.77 L565.88,94.34 L563.89,92.96 L561.87,91.64 L559.80,90.37Z" fill="#82a9cb"/><path d="M559.80,90.37 L561.87,91.64 L563.89,92.96 L565.88,94.34 L567.83,95.77 L558.81,107.26 L557.18,106.07 L555.52,104.92 L553.83,103.82 L552.11,102.76Z" fill="#e4e4e4"/><path d="M585.87,72.77 L588.41,74.74 L590.90,76.77 L593.32,78.87 L595.69,81.04 L585.45,91.51 L583.38,89.61 L581.25,87.77 L579.08,85.99 L576.85,84.27Z" fill="#7ba5ca"/><path d="M576.85,84.27 L579.08,85.99 L581.25,87.77 L583.38,89.61 L585.45,91.51 L575.21,101.98 L573.43,100.35 L571.61,98.78 L569.74,97.25 L567.83,95.77Z" fill="#c8cdd6"/><path d="M567.83,95.77 L569.74,97.25 L571.61,98.78 L573.43,100.35 L575.21,101.98 L564.97,112.45 L563.49,111.09 L561.96,109.78 L560.40,108.50 L558.81,107.26Z" fill="#e4e4e4"/><path d="M595.69,81.04 L598.00,83.26 L600.24,85.55 L602.42,87.90 L604.54,90.30 L593.20,99.62 L591.35,97.52 L589.44,95.46 L587.47,93.46 L585.45,91.51Z" fill="#7ba5ca"/><path d="M585.45,91.51 L587.47,93.46 L589.44,95.46 L591.35,97.52 L593.20,99.62 L581.86,108.95 L580.27,107.14 L578.63,105.37 L576.95,103.66 L575.21,101.98Z" fill="#e3e3e3"/><path d="M575.21,101.98 L576.95,103.66 L578.63,105.37 L580.27,107.14 L581.86,108.95 L570.53,118.27 L569.20,116.76 L567.83,115.29 L566.42,113.85 L564.97,112.45Z" fill="#adc0d1"/><path d="M604.54,90.30 L606.59,92.76 L608.56,95.27 L610.47,97.83 L612.31,100.45 L600.01,108.51 L598.40,106.22 L596.73,103.98 L594.99,101.78 L593.20,99.62Z" fill="#7ba5ca"/><path d="M593.20,99.62 L594.99,101.78 L596.73,103.98 L598.40,106.22 L600.01,108.51 L587.71,116.57 L586.33,114.61 L584.89,112.68 L583.40,110.79 L581.86,108.95Z" fill="#b4c3d2"/><path d="M581.86,108.95 L583.40,110.79 L584.89,112.68 L586.33,114.61 L587.71,116.57 L575.41,124.64 L574.25,123.00 L573.05,121.39 L571.81,119.81 L570.53,118.27Z" fill="#e4e4e4"/><path d="M612.31,100.45 L614.07,103.11 L615.76,105.81 L617.38,108.56 L618.91,111.36 L605.79,118.07 L604.45,115.62 L603.03,113.21 L601.55,110.84 L600.01,108.51Z" fill="#7ba5ca"/><path d="M600.01,108.51 L601.55,110.84 L603.03,113.21 L604.45,115.62 L605.79,118.07 L592.67,124.78 L591.52,122.68 L590.30,120.61 L589.03,118.57 L587.71,116.57Z" fill="#e1e1e1"/><path d="M587.71,116.57 L589.03,118.57 L590.30,120.61 L591.52,122.68 L592.67,124.78 L579.55,131.49 L578.59,129.74 L577.57,128.01 L576.51,126.31 L575.41,124.64Z" fill="#e3e3e3"/><path d="M618.91,111.36 L620.37,114.19 L621.75,117.06 L623.05,119.97 L624.27,122.90 L610.49,128.18 L609.42,125.61 L608.28,123.06 L607.07,120.55 L605.79,118.07Z" fill="#e3e3e3"/><path d="M605.79,118.07 L607.07,120.55 L608.28,123.06 L609.42,125.61 L610.49,128.18 L596.70,133.46 L595.78,131.25 L594.81,129.07 L593.77,126.91 L592.67,124.78Z" fill="#e3e3e3"/><path d="M592.67,124.78 L593.77,126.91 L594.81,129.07 L595.78,131.25 L596.70,133.46 L582.91,138.74 L582.15,136.89 L581.33,135.07 L580.47,133.27 L579.55,131.49Z" fill="#7ba5ca"/><path d="M624.27,122.90 L625.41,125.88 L626.46,128.88 L627.43,131.90 L628.32,134.95 L614.03,138.74 L613.26,136.06 L612.40,133.41 L611.48,130.79 L610.49,128.18Z" fill="#7ba5ca"/><path d="M610.49,128.18 L611.48,130.79 L612.40,133.41 L613.26,136.06 L614.03,138.74 L599.74,142.52 L599.08,140.23 L598.35,137.95 L597.55,135.69 L596.70,133.46Z" fill="#e4e4e4"/><path d="M596.70,133.46 L597.55,135.69 L598.35,137.95 L599.08,140.23 L599.74,142.52 L585.46,146.30 L584.90,144.39 L584.29,142.49 L583.63,140.60 L582.91,138.74Z" fill="#cbcfd7"/><path d="M628.32,134.95 L629.12,138.03 L629.84,141.12 L630.47,144.23 L631.01,147.36 L616.39,149.61 L615.92,146.87 L615.36,144.14 L614.73,141.43 L614.03,138.74Z" fill="#7ba5ca"/><path d="M614.03,138.74 L614.73,141.43 L615.36,144.14 L615.92,146.87 L616.39,149.61 L601.77,151.85 L601.36,149.50 L600.89,147.16 L600.35,144.83 L599.74,142.52Z" fill="#e4e4e4"/><path d="M599.74,142.52 L600.35,144.83 L600.89,147.16 L601.36,149.50 L601.77,151.85 L587.15,154.09 L586.81,152.13 L586.41,150.18 L585.96,148.23 L585.46,146.30Z" fill="#adc0d1"/><path d="M631.01,147.36 L631.47,150.50 L631.84,153.66 L632.12,156.82 L632.32,159.98 L617.54,160.66 L617.36,157.89 L617.12,155.12 L616.79,152.36 L616.39,149.61Z" fill="#82a9cb"/><path d="M616.39,149.61 L616.79,152.36 L617.12,155.12 L617.36,157.89 L617.54,160.66 L602.75,161.34 L602.61,158.96 L602.39,156.58 L602.11,154.21 L601.77,151.85Z" fill="#dededf"/><path d="M601.77,151.85 L602.11,154.21 L602.39,156.58 L602.61,158.96 L602.75,161.34 L587.97,162.02 L587.85,160.03 L587.67,158.05 L587.44,156.07 L587.15,154.09Z" fill="#e4e4e4"/><path d="M632.32,159.98 L632.43,163.15 L632.45,166.33 L632.38,169.50 L632.22,172.67 L617.45,171.77 L617.59,169.00 L617.65,166.22 L617.63,163.44 L617.54,160.66Z" fill="#e3e3e3"/><path d="M617.54,160.66 L617.63,163.44 L617.65,166.22 L617.59,169.00 L617.45,171.77 L602.68,170.88 L602.80,168.49 L602.85,166.11 L602.83,163.72 L602.75,161.34Z" fill="#e4e4e4"/><path d="M602.75,161.34 L602.83,163.72 L602.85,166.11 L602.80,168.49 L602.68,170.88 L587.91,169.98 L588.01,167.99 L588.05,166.00 L588.04,164.01 L587.97,162.02Z" fill="#7ba5ca"/><path d="M632.22,172.67 L631.98,175.83 L631.65,178.99 L631.23,182.14 L630.72,185.27 L616.14,182.81 L616.58,180.07 L616.95,177.31 L617.24,174.54 L617.45,171.77Z" fill="#a6bdd0"/><path d="M617.45,171.77 L617.24,174.54 L616.95,177.31 L616.58,180.07 L616.14,182.81 L601.55,180.35 L601.93,178.00 L602.25,175.63 L602.50,173.26 L602.68,170.88Z" fill="#e4e4e4"/><path d="M602.68,170.88 L602.50,173.26 L602.25,175.63 L601.93,178.00 L601.55,180.35 L586.97,177.89 L587.28,175.93 L587.55,173.95 L587.75,171.97 L587.91,169.98Z" fill="#7ba5ca"/><path d="M630.72,185.27 L630.13,188.39 L629.45,191.49 L628.69,194.57 L627.84,197.64 L613.61,193.64 L614.36,190.96 L615.02,188.26 L615.62,185.54 L616.14,182.81Z" fill="#e4e4e4"/><path d="M616.14,182.81 L615.62,185.54 L615.02,188.26 L614.36,190.96 L613.61,193.64 L599.38,189.65 L600.02,187.35 L600.60,185.03 L601.11,182.70 L601.55,180.35Z" fill="#e1e1e1"/><path d="M601.55,180.35 L601.11,182.70 L600.60,185.03 L600.02,187.35 L599.38,189.65 L585.16,185.66 L585.69,183.74 L586.17,181.80 L586.59,179.85 L586.97,177.89Z" fill="#7ba5ca"/><path d="M626.62,201.54 L625.58,204.54 L624.46,207.52 L623.25,210.46 L621.97,213.38 L608.47,207.43 L609.59,204.88 L610.65,202.30 L611.63,199.69 L612.55,197.06Z" fill="#c1cad5"/><path d="M612.55,197.06 L611.63,199.69 L610.65,202.30 L609.59,204.88 L608.47,207.43 L594.97,201.48 L595.93,199.30 L596.84,197.08 L597.69,194.84 L598.47,192.59Z" fill="#7ba5ca"/><path d="M598.47,192.59 L597.69,194.84 L596.84,197.08 L595.93,199.30 L594.97,201.48 L581.47,195.54 L582.28,193.71 L583.03,191.86 L583.74,189.99 L584.39,188.11Z" fill="#e4e4e4"/><path d="M621.97,213.38 L620.60,216.25 L619.15,219.09 L617.63,221.89 L616.03,224.65 L603.26,217.30 L604.67,214.89 L606.00,212.44 L607.27,209.95 L608.47,207.43Z" fill="#7ba5ca"/><path d="M608.47,207.43 L607.27,209.95 L606.00,212.44 L604.67,214.89 L603.26,217.30 L590.50,209.96 L591.71,207.89 L592.85,205.78 L593.94,203.65 L594.97,201.48Z" fill="#e4e4e4"/><path d="M594.97,201.48 L593.94,203.65 L592.85,205.78 L591.71,207.89 L590.50,209.96 L577.74,202.62 L578.74,200.88 L579.70,199.13 L580.61,197.34 L581.47,195.54Z" fill="#7ba5ca"/><path d="M616.03,224.65 L614.35,227.36 L612.60,230.03 L610.77,232.65 L608.88,235.22 L597.00,226.57 L598.66,224.31 L600.26,222.02 L601.80,219.68 L603.26,217.30Z" fill="#e4e4e4"/><path d="M603.26,217.30 L601.80,219.68 L600.26,222.02 L598.66,224.31 L597.00,226.57 L585.13,217.91 L586.55,215.98 L587.92,214.01 L589.24,212.00 L590.50,209.96Z" fill="#7ba5ca"/><path d="M590.50,209.96 L589.24,212.00 L587.92,214.01 L586.55,215.98 L585.13,217.91 L573.25,209.26 L574.44,207.64 L575.59,206.00 L576.69,204.32 L577.74,202.62Z" fill="#c8cdd6"/><path d="M608.88,235.22 L606.91,237.74 L604.87,240.21 L602.77,242.62 L600.60,244.98 L589.75,235.11 L591.65,233.05 L593.49,230.93 L595.28,228.77 L597.00,226.57Z" fill="#b4c3d2"/><path d="M597.00,226.57 L595.28,228.77 L593.49,230.93 L591.65,233.05 L589.75,235.11 L578.90,225.24 L580.53,223.47 L582.12,221.66 L583.65,219.81 L585.13,217.91Z" fill="#e4e4e4"/><path d="M585.13,217.91 L583.65,219.81 L582.12,221.66 L580.53,223.47 L578.90,225.24 L568.05,215.38 L569.42,213.90 L570.74,212.39 L572.01,210.84 L573.25,209.26Z" fill="#7ba5ca"/><path d="M600.60,244.98 L598.36,247.27 L596.07,249.51 L593.71,251.68 L591.29,253.79 L581.60,242.83 L583.72,240.98 L585.78,239.08 L587.79,237.12 L589.75,235.11Z" fill="#7ba5ca"/><path d="M589.75,235.11 L587.79,237.12 L585.78,239.08 L583.72,240.98 L581.60,242.83 L571.90,231.87 L573.72,230.29 L575.49,228.65 L577.22,226.97 L578.90,225.24Z" fill="#e3e3e3"/><path d="M578.90,225.24 L577.22,226.97 L575.49,228.65 L573.72,230.29 L571.90,231.87 L562.21,220.91 L563.73,219.59 L565.21,218.22 L566.65,216.82 L568.05,215.38Z" fill="#e4e4e4"/><path d="M591.29,253.79 L588.82,255.84 L586.29,257.82 L583.70,259.73 L581.07,261.57 L572.64,249.65 L574.95,248.03 L577.21,246.36 L579.43,244.63 L581.60,242.83Z" fill="#e2e2e2"/><path d="M581.60,242.83 L579.43,244.63 L577.21,246.36 L574.95,248.03 L572.64,249.65 L564.21,237.72 L566.20,236.34 L568.14,234.90 L570.04,233.41 L571.90,231.87Z" fill="#e4e4e4"/><path d="M571.90,231.87 L570.04,233.41 L568.14,234.90 L566.20,236.34 L564.21,237.72 L555.79,225.80 L557.44,224.64 L559.07,223.44 L560.66,222.20 L562.21,220.91Z" fill="#7ba5ca"/><path d="M581.07,261.57 L578.38,263.34 L575.64,265.04 L572.86,266.66 L570.04,268.22 L562.98,255.47 L565.46,254.11 L567.89,252.68 L570.29,251.20 L572.64,249.65Z" fill="#adc0d1"/><path d="M572.64,249.65 L570.29,251.20 L567.89,252.68 L565.46,254.11 L562.98,255.47 L555.92,242.72 L558.05,241.55 L560.14,240.33 L562.19,239.05 L564.21,237.72Z" fill="#e4e4e4"/><path d="M564.21,237.72 L562.19,239.05 L560.14,240.33 L558.05,241.55 L555.92,242.72 L548.87,229.97 L550.64,229.00 L552.39,227.98 L554.10,226.91 L555.79,225.80Z" fill="#7ba5ca"/><path d="M570.04,268.22 L567.17,269.69 L564.27,271.09 L561.32,272.41 L558.34,273.65 L552.74,260.23 L555.35,259.14 L557.92,257.98 L560.47,256.76 L562.98,255.47Z" fill="#c1cad5"/><path d="M562.98,255.47 L560.47,256.76 L557.92,257.98 L555.35,259.14 L552.74,260.23 L547.13,246.80 L549.37,245.87 L551.58,244.88 L553.77,243.83 L555.92,242.72Z" fill="#7ba5ca"/><path d="M555.92,242.72 L553.77,243.83 L551.58,244.88 L549.37,245.87 L547.13,246.80 L541.52,233.38 L543.39,232.60 L545.24,231.77 L547.07,230.90 L548.87,229.97Z" fill="#e3e3e3"/><path d="M558.34,273.65 L555.33,274.81 L552.29,275.89 L549.21,276.89 L546.11,277.81 L542.02,263.87 L544.74,263.07 L547.43,262.19 L550.10,261.25 L552.74,260.23Z" fill="#7ba5ca"/><path d="M552.74,260.23 L550.10,261.25 L547.43,262.19 L544.74,263.07 L542.02,263.87 L537.93,249.93 L540.27,249.24 L542.58,248.49 L544.86,247.68 L547.13,246.80Z" fill="#c8cdd6"/><path d="M547.13,246.80 L544.86,247.68 L542.58,248.49 L540.27,249.24 L537.93,249.93 L533.85,235.99 L535.79,235.42 L537.72,234.79 L539.63,234.11 L541.52,233.38Z" fill="#e4e4e4"/><path d="M546.11,277.81 L542.99,278.65 L539.84,279.40 L536.68,280.07 L533.50,280.65 L530.97,266.36 L533.76,265.85 L536.53,265.26 L539.29,264.60 L542.02,263.87Z" fill="#e4e4e4"/><path d="M542.02,263.87 L539.29,264.60 L536.53,265.26 L533.76,265.85 L530.97,266.36 L528.45,252.07 L530.84,251.63 L533.22,251.13 L535.59,250.56 L537.93,249.93Z" fill="#d0d3d8"/><path d="M537.93,249.93 L535.59,250.56 L533.22,251.13 L530.84,251.63 L528.45,252.07 L525.92,237.78 L527.92,237.41 L529.91,236.99 L531.88,236.52 L533.85,235.99Z" fill="#7ba5ca"/><path d="M533.50,280.65 L530.30,281.15 L527.09,281.56 L523.87,281.89 L520.64,282.13 L519.71,267.66 L522.54,267.45 L525.36,267.16 L528.17,266.80 L530.97,266.36Z" fill="#7ba5ca"/><path d="M530.97,266.36 L528.17,266.80 L525.36,267.16 L522.54,267.45 L519.71,267.66 L518.78,253.18 L521.21,253.00 L523.63,252.75 L526.04,252.44 L528.45,252.07Z" fill="#adc0d1"/><path d="M528.45,252.07 L526.04,252.44 L523.63,252.75 L521.21,253.00 L518.78,253.18 L517.85,238.71 L519.88,238.56 L521.90,238.35 L523.92,238.09 L525.92,237.78Z" fill="#e4e4e4"/><path d="M520.64,282.13 L517.41,282.29 L514.17,282.36 L510.93,282.34 L507.70,282.24 L508.37,267.75 L511.21,267.84 L514.04,267.86 L516.88,267.79 L519.71,267.66Z" fill="#e3e3e3"/><path d="M519.71,267.66 L516.88,267.79 L514.04,267.86 L511.21,267.84 L508.37,267.75 L509.05,253.26 L511.48,253.34 L513.92,253.35 L516.35,253.30 L518.78,253.18Z" fill="#e3e3e3"/><path d="M518.78,253.18 L516.35,253.30 L513.92,253.35 L511.48,253.34 L509.05,253.26 L509.73,238.78 L511.76,238.84 L513.79,238.85 L515.82,238.81 L517.85,238.71Z" fill="#7ba5ca"/><path d="M507.70,282.24 L504.46,282.05 L501.24,281.78 L498.02,281.42 L494.82,280.98 L497.09,266.64 L499.90,267.03 L502.72,267.35 L505.54,267.59 L508.37,267.75Z" fill="#e4e4e4"/><path d="M508.37,267.75 L505.54,267.59 L502.72,267.35 L499.90,267.03 L497.09,266.64 L499.37,252.31 L501.78,252.65 L504.19,252.92 L506.62,253.12 L509.05,253.26Z" fill="#e4e4e4"/><path d="M509.05,253.26 L506.62,253.12 L504.19,252.92 L501.78,252.65 L499.37,252.31 L501.64,237.98 L503.65,238.26 L505.67,238.49 L507.70,238.66 L509.73,238.78Z" fill="#7ba5ca"/><path d="M494.82,280.98 L491.62,280.45 L488.45,279.83 L485.29,279.13 L482.15,278.35 L486.00,264.34 L488.75,265.03 L491.51,265.64 L494.29,266.18 L497.09,266.64Z" fill="#7ba5ca"/><path d="M497.09,266.64 L494.29,266.18 L491.51,265.64 L488.75,265.03 L486.00,264.34 L489.84,250.34 L492.20,250.93 L494.58,251.45 L496.97,251.91 L499.37,252.31Z" fill="#7ba5ca"/><path d="M499.37,252.31 L496.97,251.91 L494.58,251.45 L492.20,250.93 L489.84,250.34 L493.69,236.33 L495.66,236.82 L497.64,237.26 L499.64,237.65 L501.64,237.98Z" fill="#e4e4e4"/><path d="M478.15,277.22 L475.07,276.25 L472.01,275.19 L468.99,274.06 L466.00,272.85 L471.85,259.52 L474.47,260.59 L477.12,261.58 L479.79,262.50 L482.49,263.35Z" fill="#e3e3e3"/><path d="M482.49,263.35 L479.79,262.50 L477.12,261.58 L474.47,260.59 L471.85,259.52 L477.70,246.20 L479.95,247.11 L482.22,247.97 L484.52,248.76 L486.83,249.49Z" fill="#7ba5ca"/><path d="M486.83,249.49 L484.52,248.76 L482.22,247.97 L479.95,247.11 L477.70,246.20 L483.55,232.88 L485.43,233.64 L487.32,234.35 L489.24,235.01 L491.18,235.62Z" fill="#adc0d1"/><path d="M466.00,272.85 L463.04,271.55 L460.12,270.18 L457.24,268.73 L454.40,267.21 L461.69,254.58 L464.18,255.92 L466.70,257.19 L469.26,258.39 L471.85,259.52Z" fill="#e2e2e2"/><path d="M471.85,259.52 L469.26,258.39 L466.70,257.19 L464.18,255.92 L461.69,254.58 L468.98,241.96 L471.11,243.11 L473.28,244.20 L475.48,245.23 L477.70,246.20Z" fill="#e4e4e4"/><path d="M477.70,246.20 L475.48,245.23 L473.28,244.20 L471.11,243.11 L468.98,241.96 L476.27,229.34 L478.05,230.29 L479.86,231.20 L481.69,232.06 L483.55,232.88Z" fill="#7ba5ca"/><path d="M450.82,265.14 L448.08,263.44 L445.39,261.67 L442.75,259.84 L440.16,257.93 L449.22,246.46 L451.48,248.13 L453.80,249.74 L456.15,251.28 L458.55,252.77Z" fill="#7ba5ca"/><path d="M458.55,252.77 L456.15,251.28 L453.80,249.74 L451.48,248.13 L449.22,246.46 L458.27,234.98 L460.22,236.42 L462.20,237.80 L464.22,239.13 L466.28,240.40Z" fill="#e4e4e4"/><path d="M466.28,240.40 L464.22,239.13 L462.20,237.80 L460.22,236.42 L458.27,234.98 L467.33,223.51 L468.95,224.71 L470.61,225.86 L472.30,226.97 L474.01,228.04Z" fill="#89adcc"/><path d="M440.16,257.93 L437.63,255.96 L435.15,253.91 L432.73,251.81 L430.37,249.64 L440.64,239.19 L442.71,241.09 L444.83,242.94 L447.00,244.73 L449.22,246.46Z" fill="#adc0d1"/><path d="M449.22,246.46 L447.00,244.73 L444.83,242.94 L442.71,241.09 L440.64,239.19 L450.91,228.75 L452.68,230.38 L454.50,231.96 L456.37,233.50 L458.27,234.98Z" fill="#e3e3e3"/><path d="M458.27,234.98 L456.37,233.50 L454.50,231.96 L452.68,230.38 L450.91,228.75 L461.18,218.30 L462.66,219.67 L464.18,220.99 L465.74,222.27 L467.33,223.51Z" fill="#82a9cb"/><path d="M430.37,249.64 L428.07,247.40 L425.83,245.11 L423.65,242.76 L421.55,240.35 L432.91,231.06 L434.76,233.17 L436.66,235.23 L438.62,237.24 L440.64,239.19Z" fill="#a6bdd0"/><path d="M440.64,239.19 L438.62,237.24 L436.66,235.23 L434.76,233.17 L432.91,231.06 L444.28,221.77 L445.86,223.58 L447.49,225.35 L449.18,227.07 L450.91,228.75Z" fill="#e3e3e3"/><path d="M450.91,228.75 L449.18,227.07 L447.49,225.35 L445.86,223.58 L444.28,221.77 L455.64,212.47 L456.96,213.99 L458.33,215.46 L459.73,216.90 L461.18,218.30Z" fill="#7ba5ca"/><path d="M421.55,240.35 L419.51,237.89 L417.54,235.37 L415.63,232.80 L413.81,230.18 L426.13,222.15 L427.73,224.45 L429.40,226.70 L431.12,228.90 L432.91,231.06Z" fill="#7ba5ca"/><path d="M432.91,231.06 L431.12,228.90 L429.40,226.70 L427.73,224.45 L426.13,222.15 L438.45,214.12 L439.83,216.09 L441.26,218.02 L442.74,219.91 L444.28,221.77Z" fill="#e4e4e4"/><path d="M444.28,221.77 L442.74,219.91 L441.26,218.02 L439.83,216.09 L438.45,214.12 L450.78,206.09 L451.93,207.74 L453.12,209.35 L454.36,210.93 L455.64,212.47Z" fill="#c8cdd6"/><path d="M413.81,230.18 L412.05,227.52 L410.37,224.81 L408.76,222.05 L407.23,219.25 L420.37,212.58 L421.71,215.03 L423.12,217.44 L424.59,219.82 L426.13,222.15Z" fill="#7ba5ca"/><path d="M426.13,222.15 L424.59,219.82 L423.12,217.44 L421.71,215.03 L420.37,212.58 L433.51,205.90 L434.66,208.01 L435.87,210.08 L437.13,212.12 L438.45,214.12Z" fill="#e4e4e4"/><path d="M438.45,214.12 L437.13,212.12 L435.87,210.08 L434.66,208.01 L433.51,205.90 L446.65,199.23 L447.61,200.99 L448.62,202.72 L449.68,204.42 L450.78,206.09Z" fill="#b4c3d2"/><path d="M407.23,219.25 L405.78,216.42 L404.41,213.54 L403.12,210.63 L401.91,207.69 L415.71,202.45 L416.77,205.03 L417.90,207.58 L419.10,210.09 L420.37,212.58Z" fill="#adc0d1"/><path d="M420.37,212.58 L419.10,210.09 L417.90,207.58 L416.77,205.03 L415.71,202.45 L429.51,197.21 L430.42,199.42 L431.39,201.61 L432.42,203.77 L433.51,205.90Z" fill="#7ba5ca"/><path d="M433.51,205.90 L432.42,203.77 L431.39,201.61 L430.42,199.42 L429.51,197.21 L443.31,191.97 L444.07,193.82 L444.88,195.64 L445.74,197.45 L446.65,199.23Z" fill="#e3e3e3"/><path d="M401.91,207.69 L400.78,204.72 L399.73,201.71 L398.77,198.68 L397.89,195.63 L412.19,191.89 L412.96,194.56 L413.80,197.22 L414.72,199.85 L415.71,202.45Z" fill="#e1e1e1"/><path d="M415.71,202.45 L414.72,199.85 L413.80,197.22 L412.96,194.56 L412.19,191.89 L426.49,188.14 L427.15,190.44 L427.87,192.72 L428.66,194.97 L429.51,197.21Z" fill="#e4e4e4"/><path d="M429.51,197.21 L428.66,194.97 L427.87,192.72 L427.15,190.44 L426.49,188.14 L440.79,184.40 L441.34,186.32 L441.94,188.22 L442.60,190.10 L443.31,191.97Z" fill="#7ba5ca"/><path d="M397.89,195.63 L397.10,192.55 L396.39,189.46 L395.77,186.34 L395.24,183.22 L409.86,181.01 L410.33,183.75 L410.88,186.48 L411.50,189.19 L412.19,191.89Z" fill="#7ba5ca"/><path d="M412.19,191.89 L411.50,189.19 L410.88,186.48 L410.33,183.75 L409.86,181.01 L424.49,178.81 L424.89,181.16 L425.36,183.50 L425.89,185.83 L426.49,188.14Z" fill="#7ba5ca"/><path d="M426.49,188.14 L425.89,185.83 L425.36,183.50 L424.89,181.16 L424.49,178.81 L439.12,176.60 L439.46,178.57 L439.85,180.52 L440.29,182.47 L440.79,184.40Z" fill="#e4e4e4"/><path d="M395.24,183.22 L394.79,180.07 L394.43,176.92 L394.15,173.76 L393.97,170.59 L408.75,169.95 L408.91,172.73 L409.15,175.50 L409.47,178.26 L409.86,181.01Z" fill="#7ba5ca"/><path d="M409.86,181.01 L409.47,178.26 L409.15,175.50 L408.91,172.73 L408.75,169.95 L423.54,169.32 L423.68,171.70 L423.88,174.07 L424.15,176.44 L424.49,178.81Z" fill="#e4e4e4"/><path d="M424.49,178.81 L424.15,176.44 L423.88,174.07 L423.68,171.70 L423.54,169.32 L438.32,168.68 L438.44,170.67 L438.61,172.65 L438.84,174.63 L439.12,176.60Z" fill="#e4e4e4"/><path d="M393.97,170.59 L393.87,167.42 L393.86,164.25 L393.93,161.07 L394.10,157.91 L408.87,158.84 L408.72,161.62 L408.66,164.40 L408.66,167.17 L408.75,169.95Z" fill="#e4e4e4"/><path d="M408.75,169.95 L408.66,167.17 L408.66,164.40 L408.72,161.62 L408.87,158.84 L423.64,159.78 L423.51,162.16 L423.45,164.54 L423.46,166.93 L423.54,169.32Z" fill="#e4e4e4"/><path d="M423.54,169.32 L423.46,166.93 L423.45,164.54 L423.51,162.16 L423.64,159.78 L438.41,160.71 L438.30,162.70 L438.25,164.69 L438.26,166.69 L438.32,168.68Z" fill="#7ba5ca"/><path d="M394.10,157.91 L394.35,154.74 L394.69,151.59 L395.12,148.44 L395.63,145.31 L410.21,147.81 L409.76,150.55 L409.39,153.31 L409.09,156.07 L408.87,158.84Z" fill="#e4e4e4"/><path d="M408.87,158.84 L409.09,156.07 L409.39,153.31 L409.76,150.55 L410.21,147.81 L424.79,150.31 L424.40,152.66 L424.08,155.03 L423.83,157.40 L423.64,159.78Z" fill="#e4e4e4"/><path d="M423.64,159.78 L423.83,157.40 L424.08,155.03 L424.40,152.66 L424.79,150.31 L439.37,152.80 L439.05,154.77 L438.78,156.75 L438.56,158.73 L438.41,160.71Z" fill="#7ba5ca"/><path d="M395.63,145.31 L396.23,142.19 L396.92,139.09 L397.69,136.01 L398.55,132.95 L412.77,136.98 L412.02,139.66 L411.34,142.36 L410.74,145.08 L410.21,147.81Z" fill="#e1e1e1"/><path d="M410.21,147.81 L410.74,145.08 L411.34,142.36 L412.02,139.66 L412.77,136.98 L426.99,141.01 L426.34,143.31 L425.76,145.63 L425.24,147.96 L424.79,150.31Z" fill="#e4e4e4"/><path d="M424.79,150.31 L425.24,147.96 L425.76,145.63 L426.34,143.31 L426.99,141.01 L441.20,145.05 L440.66,146.97 L440.18,148.90 L439.75,150.85 L439.37,152.80Z" fill="#7ba5ca"/><path d="M398.55,132.95 L399.49,129.91 L400.52,126.90 L401.63,123.92 L402.82,120.97 L416.51,126.49 L415.46,129.08 L414.49,131.69 L413.59,134.32 L412.77,136.98Z" fill="#e4e4e4"/><path d="M412.77,136.98 L413.59,134.32 L414.49,131.69 L415.46,129.08 L416.51,126.49 L430.19,132.01 L429.30,134.23 L428.47,136.47 L427.69,138.73 L426.99,141.01Z" fill="#e4e4e4"/><path d="M426.99,141.01 L427.69,138.73 L428.47,136.47 L429.30,134.23 L430.19,132.01 L443.88,137.53 L443.13,139.38 L442.44,141.25 L441.79,143.14 L441.20,145.05Z" fill="#7ba5ca"/><path d="M402.82,120.97 L404.09,118.06 L405.44,115.17 L406.88,112.33 L408.39,109.52 L421.38,116.46 L420.06,118.92 L418.81,121.41 L417.62,123.93 L416.51,126.49Z" fill="#bac7d4"/><path d="M416.51,126.49 L417.62,123.93 L418.81,121.41 L420.06,118.92 L421.38,116.46 L434.38,123.40 L433.24,125.51 L432.17,127.65 L431.15,129.81 L430.19,132.01Z" fill="#e4e4e4"/><path d="M430.19,132.01 L431.15,129.81 L432.17,127.65 L433.24,125.51 L434.38,123.40 L447.38,130.34 L446.43,132.10 L445.53,133.88 L444.68,135.69 L443.88,137.53Z" fill="#7ba5ca"/><path d="M408.39,109.52 L409.97,106.75 L411.64,104.03 L413.38,101.36 L415.19,98.73 L427.34,107.00 L425.75,109.31 L424.23,111.65 L422.77,114.04 L421.38,116.46Z" fill="#7ba5ca"/><path d="M421.38,116.46 L422.77,114.04 L424.23,111.65 L425.75,109.31 L427.34,107.00 L439.49,115.28 L438.13,117.26 L436.82,119.27 L435.57,121.32 L434.38,123.40Z" fill="#7ba5ca"/><path d="M434.38,123.40 L435.57,121.32 L436.82,119.27 L438.13,117.26 L439.49,115.28 L451.65,123.56 L450.51,125.21 L449.42,126.89 L448.37,128.60 L447.38,130.34Z" fill="#e3e3e3"/><path d="M415.19,98.73 L417.07,96.14 L419.03,93.62 L421.05,91.14 L423.14,88.72 L434.31,98.24 L432.47,100.36 L430.70,102.53 L428.99,104.74 L427.34,107.00Z" fill="#d8d9db"/><path d="M427.34,107.00 L428.99,104.74 L430.70,102.53 L432.47,100.36 L434.31,98.24 L445.47,107.76 L443.90,109.58 L442.38,111.44 L440.91,113.34 L439.49,115.28Z" fill="#e4e4e4"/><path d="M439.49,115.28 L440.91,113.34 L442.38,111.44 L443.90,109.58 L445.47,107.76 L456.64,117.27 L455.33,118.80 L454.06,120.35 L452.83,121.94 L451.65,123.56Z" fill="#7ba5ca"/><path d="M423.14,88.72 L425.30,86.35 L427.52,84.04 L429.81,81.80 L432.15,79.61 L442.20,90.26 L440.15,92.17 L438.14,94.14 L436.20,96.16 L434.31,98.24Z" fill="#e3e3e3"/><path d="M434.31,98.24 L436.20,96.16 L438.14,94.14 L440.15,92.17 L442.20,90.26 L452.25,100.91 L450.49,102.55 L448.77,104.24 L447.10,105.98 L445.47,107.76Z" fill="#7ba5ca"/><path d="M445.47,107.76 L447.10,105.98 L448.77,104.24 L450.49,102.55 L452.25,100.91 L462.30,111.56 L460.82,112.93 L459.39,114.34 L457.99,115.79 L456.64,117.27Z" fill="#c1cad5"/><path d="M432.15,79.61 L434.56,77.49 L437.03,75.43 L439.55,73.44 L442.12,71.52 L450.93,83.17 L448.68,84.85 L446.47,86.60 L444.31,88.40 L442.20,90.26Z" fill="#e1e1e1"/><path d="M442.20,90.26 L444.31,88.40 L446.47,86.60 L448.68,84.85 L450.93,83.17 L459.74,94.82 L457.81,96.27 L455.91,97.77 L454.06,99.31 L452.25,100.91Z" fill="#7ba5ca"/><path d="M452.25,100.91 L454.06,99.31 L455.91,97.77 L457.81,96.27 L459.74,94.82 L468.56,106.48 L466.94,107.68 L465.36,108.93 L463.81,110.23 L462.30,111.56Z" fill="#e3e3e3"/><path d="M442.12,71.52 L444.75,69.66 L447.43,67.88 L450.15,66.17 L452.92,64.53 L460.40,77.05 L457.97,78.48 L455.58,79.98 L453.23,81.55 L450.93,83.17Z" fill="#7ba5ca"/><path d="M450.93,83.17 L453.23,81.55 L455.58,79.98 L457.97,78.48 L460.40,77.05 L467.87,89.57 L465.78,90.80 L463.73,92.09 L461.72,93.43 L459.74,94.82Z" fill="#e3e3e3"/><path d="M459.74,94.82 L461.72,93.43 L463.73,92.09 L465.78,90.80 L467.87,89.57 L475.34,102.09 L473.60,103.12 L471.89,104.19 L470.21,105.31 L468.56,106.48Z" fill="#e3e3e3"/><path d="M452.92,64.53 L455.74,62.96 L458.60,61.47 L461.50,60.06 L464.44,58.73 L470.48,71.97 L467.91,73.14 L465.37,74.37 L462.86,75.68 L460.40,77.05Z" fill="#7ba5ca"/><path d="M460.40,77.05 L462.86,75.68 L465.37,74.37 L467.91,73.14 L470.48,71.97 L476.52,85.21 L474.31,86.21 L472.13,87.27 L469.98,88.39 L467.87,89.57Z" fill="#e3e3e3"/><path d="M467.87,89.57 L469.98,88.39 L472.13,87.27 L474.31,86.21 L476.52,85.21 L482.57,98.45 L480.72,99.28 L478.90,100.17 L477.11,101.11 L475.34,102.09Z" fill="#e3e3e3"/><path d="M468.27,57.13 L471.28,55.97 L474.33,54.90 L477.40,53.91 L480.51,53.00 L484.56,66.95 L481.84,67.74 L479.15,68.61 L476.48,69.55 L473.83,70.56Z" fill="#e2e2e2"/><path d="M473.83,70.56 L476.48,69.55 L479.15,68.61 L481.84,67.74 L484.56,66.95 L488.61,80.90 L486.27,81.58 L483.96,82.33 L481.67,83.14 L479.40,84.00Z" fill="#e3e3e3"/><path d="M479.40,84.00 L481.67,83.14 L483.96,82.33 L486.27,81.58 L488.61,80.90 L492.66,94.85 L490.71,95.42 L488.78,96.04 L486.86,96.72 L484.97,97.44Z" fill="#7ba5ca"/><path d="M480.51,53.00 L483.63,52.17 L486.78,51.43 L489.95,50.77 L493.13,50.19 L495.61,64.49 L492.83,65.00 L490.05,65.57 L487.29,66.22 L484.56,66.95Z" fill="#7ba5ca"/><path d="M484.56,66.95 L487.29,66.22 L490.05,65.57 L492.83,65.00 L495.61,64.49 L498.10,78.79 L495.70,79.22 L493.32,79.72 L490.96,80.28 L488.61,80.90Z" fill="#e3e3e3"/><path d="M488.61,80.90 L490.96,80.28 L493.32,79.72 L495.70,79.22 L498.10,78.79 L500.58,93.09 L498.58,93.45 L496.59,93.86 L494.62,94.33 L492.66,94.85Z" fill="#d8d9db"/><path d="M493.13,50.19 L496.33,49.70 L499.54,49.30 L502.76,48.98 L505.99,48.75 L506.88,63.22 L504.05,63.43 L501.23,63.71 L498.42,64.06 L495.61,64.49Z" fill="#89adcc"/><path d="M495.61,64.49 L498.42,64.06 L501.23,63.71 L504.05,63.43 L506.88,63.22 L507.77,77.70 L505.34,77.88 L502.92,78.12 L500.50,78.42 L498.10,78.79Z" fill="#e3e3e3"/><path d="M498.10,78.79 L500.50,78.42 L502.92,78.12 L505.34,77.88 L507.77,77.70 L508.66,92.18 L506.63,92.33 L504.61,92.53 L502.59,92.78 L500.58,93.09Z" fill="#82a9cb"/></g>
<text transform="translate(581.48,67.83) rotate(-55.55)" font-size="7" fill="#57A85B" stroke="#57A85B" stroke-width="0.15" dy="3.5">K00030_icd</text>
<text transform="translate(591.88,75.66) rotate(-49.33)" font-size="7" fill="#57A85B" stroke="#57A85B" stroke-width="0.15" dy="3.5">K00239_sdhA</text>
<text transform="translate(601.34,84.55) rotate(-43.11)" font-size="7" fill="#57A85B" stroke="#57A85B" stroke-width="0.15" dy="3.5">K00927_pgk</text>
<text transform="translate(609.76,94.39) rotate(-36.89)" font-size="7" fill="#57A85B" stroke="#57A85B" stroke-width="0.15" dy="3.5">K01183_endoglucanase</text>
<text transform="translate(617.05,105.06) rotate(-30.67)" font-size="7" fill="#57A85B" stroke="#57A85B" stroke-width="0.15" dy="3.5">K01209_abfA</text>
<text transform="translate(623.12,116.45) rotate(-24.45)" font-size="7" fill="#57A85B" stroke="#57A85B" stroke-width="0.15" dy="3.5">K01601_rbcL</text>
<text transform="translate(627.89,128.42) rotate(-18.23)" font-size="7" fill="#57A85B" stroke="#57A85B" stroke-width="0.15" dy="3.5">K01820_xylA</text>
<text transform="translate(631.31,140.82) rotate(-12.01)" font-size="7" fill="#57A85B" stroke="#57A85B" stroke-width="0.15" dy="3.5">K01902_sucD</text>
<text transform="translate(633.33,153.51) rotate(-5.79)" font-size="7" fill="#57A85B" stroke="#57A85B" stroke-width="0.15" dy="3.5">K01907_acsA</text>
<text transform="translate(633.95,166.36) rotate(0.43)" font-size="7" fill="#57A85B" stroke="#57A85B" stroke-width="0.15" dy="3.5">K05299_fdhA</text>
<text transform="translate(633.14,179.51) rotate(6.65)" font-size="7" fill="#57A85B" stroke="#57A85B" stroke-width="0.15" dy="3.5">K10714_mtdB</text>
<text transform="translate(630.92,192.49) rotate(12.87)" font-size="7" fill="#57A85B" stroke="#57A85B" stroke-width="0.15" dy="3.5">K11779_fbiC</text>
<text transform="translate(625.86,209.14) rotate(21.09)" font-size="7" fill="#9E6DAF" stroke="#9E6DAF" stroke-width="0.15" dy="3.5">K00265_gltB</text>
<text transform="translate(620.49,221.15) rotate(27.31)" font-size="7" fill="#9E6DAF" stroke="#9E6DAF" stroke-width="0.15" dy="3.5">K00363_nirD</text>
<text transform="translate(613.85,232.51) rotate(33.53)" font-size="7" fill="#9E6DAF" stroke="#9E6DAF" stroke-width="0.15" dy="3.5">K00366_nirA</text>
<text transform="translate(606.03,243.08) rotate(39.75)" font-size="7" fill="#9E6DAF" stroke="#9E6DAF" stroke-width="0.15" dy="3.5">K00371_narH</text>
<text transform="translate(597.11,252.74) rotate(45.97)" font-size="7" fill="#9E6DAF" stroke="#9E6DAF" stroke-width="0.15" dy="3.5">K00372_nasA</text>
<text transform="translate(587.21,261.36) rotate(52.19)" font-size="7" fill="#9E6DAF" stroke="#9E6DAF" stroke-width="0.15" dy="3.5">K00374_narI</text>
<text transform="translate(576.43,268.86) rotate(58.41)" font-size="7" fill="#9E6DAF" stroke="#9E6DAF" stroke-width="0.15" dy="3.5">K00376_nosZ</text>
<text transform="translate(564.91,275.15) rotate(64.63)" font-size="7" fill="#9E6DAF" stroke="#9E6DAF" stroke-width="0.15" dy="3.5">K00926_arcC</text>
<text transform="translate(552.78,280.14) rotate(70.85)" font-size="7" fill="#9E6DAF" stroke="#9E6DAF" stroke-width="0.15" dy="3.5">K01428_ureC</text>
<text transform="translate(540.18,283.78) rotate(77.07)" font-size="7" fill="#9E6DAF" stroke="#9E6DAF" stroke-width="0.15" dy="3.5">K01429_ureB</text>
<text transform="translate(527.26,286.02) rotate(83.29)" font-size="7" fill="#9E6DAF" stroke="#9E6DAF" stroke-width="0.15" dy="3.5">K02568_napB</text>
<text transform="translate(514.18,286.85) rotate(269.51)" font-size="7" text-anchor="end" fill="#9E6DAF" stroke="#9E6DAF" stroke-width="0.15" dy="3.5">K02586_nifD</text>
<text transform="translate(501.09,286.25) rotate(275.73)" font-size="7" text-anchor="end" fill="#9E6DAF" stroke="#9E6DAF" stroke-width="0.15" dy="3.5">K10944_pmoA</text>
<text transform="translate(488.14,284.22) rotate(281.95)" font-size="7" text-anchor="end" fill="#9E6DAF" stroke="#9E6DAF" stroke-width="0.15" dy="3.5">K15371_gdhA</text>
<text transform="translate(471.50,279.41) rotate(290.17)" font-size="7" text-anchor="end" fill="#F28D45" stroke="#F28D45" stroke-width="0.15" dy="3.5">K00937_ppk</text>
<text transform="translate(459.46,274.20) rotate(296.39)" font-size="7" text-anchor="end" fill="#F28D45" stroke="#F28D45" stroke-width="0.15" dy="3.5">K02037_pstC</text>
<text transform="translate(444.54,265.37) rotate(304.61)" font-size="7" text-anchor="end" fill="#4679B5" stroke="#4679B5" stroke-width="0.15" dy="3.5">K00387_soxC</text>
<text transform="translate(434.17,257.31) rotate(310.83)" font-size="7" text-anchor="end" fill="#4679B5" stroke="#4679B5" stroke-width="0.15" dy="3.5">K00394_aprA</text>
<text transform="translate(424.73,248.17) rotate(317.05)" font-size="7" text-anchor="end" fill="#4679B5" stroke="#4679B5" stroke-width="0.15" dy="3.5">K00641_metA</text>
<text transform="translate(416.33,238.06) rotate(323.27)" font-size="7" text-anchor="end" fill="#4679B5" stroke="#4679B5" stroke-width="0.15" dy="3.5">K00651_metA</text>
<text transform="translate(409.08,227.09) rotate(329.49)" font-size="7" text-anchor="end" fill="#4679B5" stroke="#4679B5" stroke-width="0.15" dy="3.5">K00860_cysC</text>
<text transform="translate(403.04,215.39) rotate(335.71)" font-size="7" text-anchor="end" fill="#4679B5" stroke="#4679B5" stroke-width="0.15" dy="3.5">K01464_hydA</text>
<text transform="translate(398.31,203.11) rotate(341.93)" font-size="7" text-anchor="end" fill="#4679B5" stroke="#4679B5" stroke-width="0.15" dy="3.5">K01758_metB</text>
<text transform="translate(394.92,190.38) rotate(348.15)" font-size="7" text-anchor="end" fill="#4679B5" stroke="#4679B5" stroke-width="0.15" dy="3.5">K01760_metC</text>
<text transform="translate(392.93,177.36) rotate(354.37)" font-size="7" text-anchor="end" fill="#4679B5" stroke="#4679B5" stroke-width="0.15" dy="3.5">K02048_cysP</text>
<text transform="translate(392.36,164.23) rotate(360.59)" font-size="7" text-anchor="end" fill="#4679B5" stroke="#4679B5" stroke-width="0.15" dy="3.5">K02439_glpE</text>
<text transform="translate(393.20,151.41) rotate(366.81)" font-size="7" text-anchor="end" fill="#4679B5" stroke="#4679B5" stroke-width="0.15" dy="3.5">K03852_xsc</text>
<text transform="translate(395.46,138.76) rotate(373.03)" font-size="7" text-anchor="end" fill="#4679B5" stroke="#4679B5" stroke-width="0.15" dy="3.5">K05301_soxC</text>
<text transform="translate(399.10,126.42) rotate(379.25)" font-size="7" text-anchor="end" fill="#4679B5" stroke="#4679B5" stroke-width="0.15" dy="3.5">K07306_dmsA</text>
<text transform="translate(404.09,114.54) rotate(385.47)" font-size="7" text-anchor="end" fill="#4679B5" stroke="#4679B5" stroke-width="0.15" dy="3.5">K10764_metZ</text>
<text transform="translate(410.36,103.26) rotate(391.69)" font-size="7" text-anchor="end" fill="#4679B5" stroke="#4679B5" stroke-width="0.15" dy="3.5">K12339_cysM</text>
<text transform="translate(417.84,92.71) rotate(397.91)" font-size="7" text-anchor="end" fill="#4679B5" stroke="#4679B5" stroke-width="0.15" dy="3.5">K13038_comE</text>
<text transform="translate(426.44,83.02) rotate(404.13)" font-size="7" text-anchor="end" fill="#4679B5" stroke="#4679B5" stroke-width="0.15" dy="3.5">K13788_pta</text>
<text transform="translate(436.07,74.30) rotate(410.35)" font-size="7" text-anchor="end" fill="#4679B5" stroke="#4679B5" stroke-width="0.15" dy="3.5">K15551_tauA</text>
<text transform="translate(446.60,66.65) rotate(416.57)" font-size="7" text-anchor="end" fill="#4679B5" stroke="#4679B5" stroke-width="0.15" dy="3.5">K07256_tauD</text>
<text transform="translate(457.91,60.17) rotate(422.79)" font-size="7" text-anchor="end" fill="#4679B5" stroke="#4679B5" stroke-width="0.15" dy="3.5">K11705_mtsB</text>
<text transform="translate(473.84,53.51) rotate(431.01)" font-size="7" text-anchor="end" fill="#A0464C" stroke="#A0464C" stroke-width="0.15" dy="3.5">K00794_ribH</text>
<text transform="translate(486.45,49.99) rotate(437.23)" font-size="7" text-anchor="end" fill="#A0464C" stroke="#A0464C" stroke-width="0.15" dy="3.5">K01497_ribA</text>
<text transform="translate(499.37,47.84) rotate(443.45)" font-size="7" text-anchor="end" fill="#A0464C" stroke="#A0464C" stroke-width="0.15" dy="3.5">K01653_ilvH</text>
<text transform="translate(462,5.5) rotate(-12)" font-size="9.7" text-anchor="middle" dy="3.4" fill="#A85457" stroke="#A85457" stroke-width="0.12">PGP</text>
<text transform="translate(679.5,99) rotate(80)" font-size="9.7" text-anchor="middle" dy="3.4" fill="#6AB46E" stroke="#6AB46E" stroke-width="0.12">C cycling</text>
<text transform="translate(601,317.5) rotate(-31)" font-size="9.7" text-anchor="middle" dy="3.4" fill="#B58BBE" stroke="#B58BBE" stroke-width="0.12">N cycling</text>
<text transform="translate(443.5,326.5) rotate(23)" font-size="9.7" text-anchor="middle" dy="3.4" fill="#F9A05F" stroke="#F9A05F" stroke-width="0.12">P cycling</text>
<text transform="translate(334.0,166.2) rotate(-90)" font-size="9.7" text-anchor="middle" dy="3.4" fill="#5B87BA" stroke="#5B87BA" stroke-width="0.12">S cycling</text>
<text x="506.8" y="57.3" font-size="8.3" fill="#111" stroke="#111" stroke-width="0.2">High</text>
<text x="506.8" y="73.4" font-size="8.3" fill="#111" stroke="#111" stroke-width="0.2">Medium</text>
<text x="506.8" y="89.2" font-size="8.3" fill="#111" stroke="#111" stroke-width="0.2">Low</text>
<defs><linearGradient id="cb" x1="0" y1="0" x2="0" y2="1"><stop offset="0" stop-color="#7BA5CA"/><stop offset="0.2" stop-color="#A0B8CC"/><stop offset="0.4" stop-color="#C0CAD4"/><stop offset="0.6" stop-color="#D5D7DA"/><stop offset="0.8" stop-color="#DDDDDD"/><stop offset="1" stop-color="#E2E2E2"/></linearGradient></defs>
<rect x="536.4" y="45.1" width="5.4" height="47.4" fill="url(#cb)"/>
<g stroke="#111" stroke-width="1.3"><line x1="542.5" y1="45.1" x2="542.5" y2="92.5"/>
<line x1="542.5" y1="45.10" x2="544.5" y2="45.10"/>
<line x1="542.5" y1="54.58" x2="544.5" y2="54.58"/>
<line x1="542.5" y1="64.06" x2="544.5" y2="64.06"/>
<line x1="542.5" y1="73.54" x2="544.5" y2="73.54"/>
<line x1="542.5" y1="83.02" x2="544.5" y2="83.02"/>
<line x1="542.5" y1="92.50" x2="544.5" y2="92.50"/>
</g>
<text x="544.6" y="47.70" font-size="7.3" fill="#222" stroke="#222" stroke-width="0.15">1.00</text>
<text x="544.6" y="57.18" font-size="7.3" fill="#222" stroke="#222" stroke-width="0.15">0.80</text>
<text x="544.6" y="66.66" font-size="7.3" fill="#222" stroke="#222" stroke-width="0.15">0.60</text>
<text x="544.6" y="76.14" font-size="7.3" fill="#222" stroke="#222" stroke-width="0.15">0.40</text>
<text x="544.6" y="85.62" font-size="7.3" fill="#222" stroke="#222" stroke-width="0.15">0.20</text>
<text x="544.6" y="95.10" font-size="7.3" fill="#222" stroke="#222" stroke-width="0.15">0.00</text>
</svg></body></html>
